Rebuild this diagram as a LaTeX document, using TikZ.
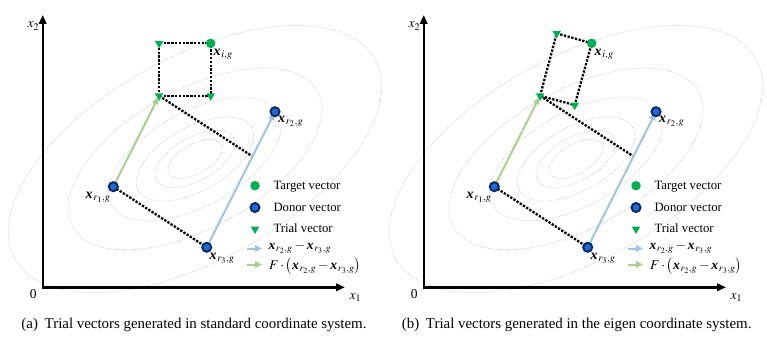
\documentclass[tikz,border=0pt]{standalone}
\usepackage{mathptmx}
\usepackage{fontspec}
\setmainfont{Liberation Serif}
\usetikzlibrary{arrows.meta,shapes.geometric,calc}
\definecolor{mkgreen}{HTML}{00B050}
\definecolor{dnfill}{HTML}{1F6BD6}
\definecolor{dnedge}{HTML}{0C2A66}
\definecolor{arblue}{HTML}{9DC3E6}
\definecolor{argreen}{HTML}{A9D18E}
\definecolor{ellgray}{HTML}{C4C4C4}
\newcommand{\bx}{\mbox{\bfseries\itshape x\kern0.7pt}}
% shared background of a panel
\newcommand{\panelback}{%
  \coordinate (O) at (42.7,50.7);
  \coordinate (Xend) at (345,50.7);
  \coordinate (Yend) at (42.7,323);
  \coordinate (C) at (195,179);
  \foreach \a [count=\k] in {30,44.1,64.8,95.3,140,205.9}{
    \draw[contour, rotate around={29:(C)}] (C) ellipse [x radius=\a pt, y radius=0.493*\a pt];
  }
  \draw[axisline] (Yend) -- (O) -- (Xend);
  \node[axlbl, anchor=base] (zero) at (33.3,39.7) {0};
  \node[axlbl, anchor=base west] (xone) at (349.5,38.5) {$x_1$};
  \node[axlbl, anchor=base west] (xtwo) at (27.5,310) {$x_2$};
  \coordinate (r1) at (113.3,151.3);
  \coordinate (r2) at (275,226.3);
  \coordinate (r3) at (206.7,90.7);
  \coordinate (M) at (159.1,242.2);
  \coordinate (P) at (252.5,181.6);
  \coordinate (T) at (210.7,294.7);
  \draw[dotline] (r1) -- (r3);
  \draw[dotline] (M) -- (P);
  \draw[diffarrow] (r3) -- (r2);
  \draw[mutarrow] (r1) -- (M);
}
% shared foreground of a panel
\newcommand{\panelfront}{%
  \node[donor] (r1m) at (r1) {};
  \node[donor] (r2m) at (r2) {};
  \node[donor] (r3m) at (r3) {};
  \node[lbl, anchor=north east] (lr1) at ($(r1)+(-2.5,-5.5)$) {$\bx_{r_1,g}$};
  \node[lbl, anchor=north west] (lr2) at ($(r2)+(3,-4.5)$) {$\bx_{r_2,g}$};
  \node[lbl, anchor=north west] (lr3) at ($(r3)+(2.7,-5.5)$) {$\bx_{r_3,g}$};
  \node[trial] (Mm) at (M) {};
  \node[target] (Tm) at (T) {};
  \node[lbl, anchor=north west] (lT) at ($(T)+(2.7,-5.5)$) {$\bx_{i,g}$};
  % legend
  \node[target] (lgT) at (255,152.3) {};
  \node[legtext] (lgTt) at (273.3,149) {Target vector};
  \node[donor] (lgD) at (255,130.5) {};
  \node[legtext] (lgDt) at (273.3,127) {Donor vector};
  \node[trial] (lgR) at (255,109) {};
  \node[legtext] (lgRt) at (273.3,105.7) {Trial vector};
  \coordinate (lgB1) at (247,89.5);
  \coordinate (lgB2) at (263.5,89.5);
  \draw[diffarrow] (lgB1) -- (lgB2);
  \node[legmath] (lgBt) at (268.3,88.3) {$\bx_{r_2,g}-\bx_{r_3,g}$};
  \coordinate (lgG1) at (247,73.5);
  \coordinate (lgG2) at (263.5,73.5);
  \draw[mutarrow] (lgG1) -- (lgG2);
  \node[legmath] (lgGt) at (268.8,69) {$F\cdot\bigl(\bx_{r_2,g}-\bx_{r_3,g}\bigr)$};
}
\begin{document}
\begin{tikzpicture}[x=1pt,y=1pt, font=\fontsize{12.7}{15}\selectfont,
  axisline/.style={line width=2.4pt, line join=miter, {Triangle[length=9pt,width=7.5pt]}-{Triangle[length=9pt,width=7.5pt]}},
  contour/.style={ellgray, line width=0.7pt, dash pattern=on 0.7pt off 1.3pt},
  dotline/.style={line width=2.3pt, dash pattern=on 2.3pt off 1.5pt},
  diffarrow/.style={arblue, line width=2pt, shorten >=1.5pt, -{Triangle[length=7pt,width=6.5pt]}},
  mutarrow/.style={argreen, line width=2pt, shorten >=1.5pt, -{Triangle[length=7pt,width=6.5pt]}},
  target/.style={circle, fill=mkgreen, inner sep=0pt, minimum size=9.5pt},
  donor/.style={circle, fill=dnfill, draw=dnedge, line width=2pt, inner sep=0pt, minimum size=9pt},
  trial/.style={regular polygon, regular polygon sides=3, shape border rotate=180, fill=mkgreen, inner sep=0pt, minimum size=10pt},
  lbl/.style={inner sep=0pt, font=\fontsize{14}{16}\selectfont},
  axlbl/.style={inner sep=0pt, font=\fontsize{13.5}{16}\selectfont},
  legtext/.style={anchor=base west, inner sep=0pt},
  legmath/.style={anchor=base west, inner sep=0pt, font=\fontsize{13.5}{16}\selectfont},
  captext/.style={anchor=base, inner sep=0pt, font=\fontsize{14.9}{17}\selectfont},
]
\useasboundingbox (0,0) rectangle (767,338);
% ---------- panel (a) ----------
\begin{scope}[name prefix=a-]
  \panelback
  \coordinate (TA) at (159.1,294.7);
  \coordinate (TB) at (210.7,242.2);
  \draw[dotline] (M) -- (TA) -- (T) -- (TB) -- (M);
  \panelfront
  \node[trial] (TAm) at (TA) {};
  \node[trial] (TBm) at (TB) {};
  \node[captext] (capa) at (194,9.5) {(a)\hspace{0.45em}Trial vectors generated in standard coordinate system.};
\end{scope}
% ---------- panel (b) ----------
\begin{scope}[shift={(381,0)}, name prefix=b-]
  \panelback
  \coordinate (TT) at (175.7,304.7);
  \coordinate (TR) at (193.7,232.9);
  \draw[dotline] (M) -- (TT) -- (T) -- (TR) -- (M);
  \panelfront
  \node[trial] (TTm) at (TT) {};
  \node[trial] (TRm) at (TR) {};
  \node[captext] (capb) at (195.7,9.5) {(b)\hspace{0.45em}Trial vectors generated in the eigen coordinate system.};
\end{scope}
\end{tikzpicture}
\end{document}
